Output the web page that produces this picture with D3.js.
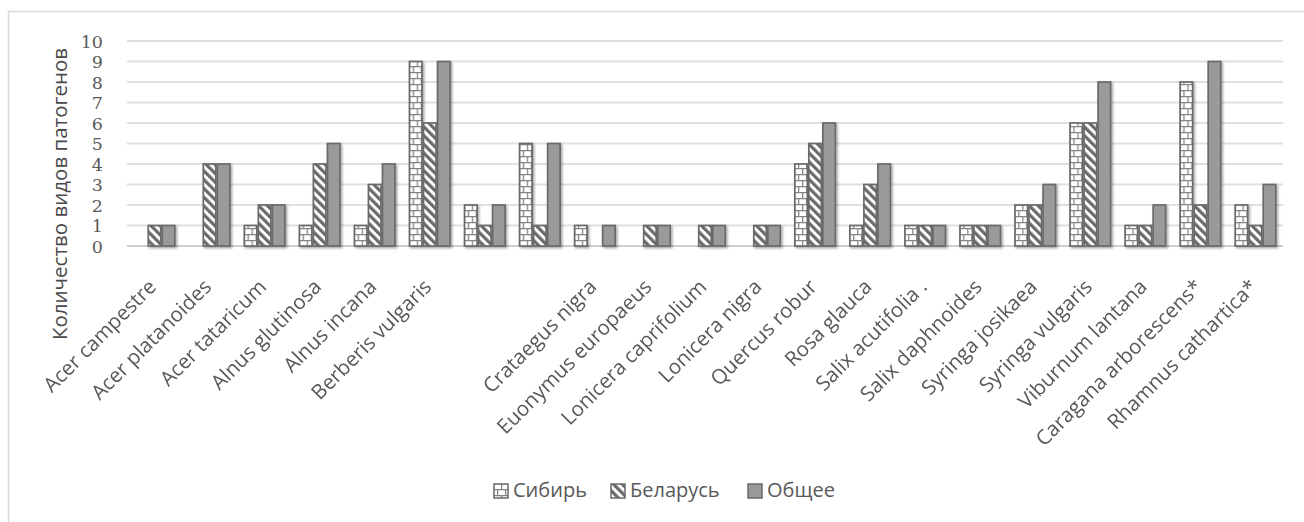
<!DOCTYPE html>
<html>
<head>
<meta charset="utf-8">
<script src="https://cdn.jsdelivr.net/npm/d3@7"></script>
<style>
  html, body { margin: 0; padding: 0; background: #fff; }
  svg { display: block; }
</style>
</head>
<body>
<svg id="chart" width="1304" height="522"></svg>
<script>
// Plant species (two unnamed groups keep an empty label)
const species = [
  "Acer campestre", "Acer platanoides", "Acer tataricum", "Alnus glutinosa",
  "Alnus incana", "Berberis vulgaris", "", "", "Crataegus nigra",
  "Euonymus europaeus", "Lonicera caprifolium", "Lonicera nigra",
  "Quercus robur", "Rosa glauca", "Salix acutifolia .", "Salix daphnoides",
  "Syringa josikaea", "Syringa vulgaris", "Viburnum lantana",
  "Caragana arborescens*", "Rhamnus cathartica*"
];

// Number of pathogen species per region
const siberia = [0, 0, 1, 1, 1, 9, 2, 5, 1, 0, 0, 0, 4, 1, 1, 1, 2, 6, 1, 8, 2];
const belarus = [1, 4, 2, 4, 3, 6, 1, 1, 0, 1, 1, 1, 5, 3, 1, 1, 2, 6, 1, 2, 1];
const total   = [1, 4, 2, 5, 4, 9, 2, 5, 1, 1, 1, 1, 6, 4, 1, 1, 3, 8, 2, 9, 3];

const seriesNames = ["Сибирь", "Беларусь", "Общее"];
const yTicks = [0, 1, 2, 3, 4, 5, 6, 7, 8, 9, 10];
const yTitle = "Количество видов патогенов";

const seriesValues = [siberia, belarus, total];
const fills = ["url(#brick)", "url(#stripes)", "#9a9a9a"];

const svg = d3.select("#chart");

// ---- patterns and shadow ----
const defs = svg.append("defs");

// small horizontal brick
const brick = defs.append("pattern")
  .attr("id", "brick").attr("patternUnits", "userSpaceOnUse")
  .attr("width", 8).attr("height", 12);
brick.append("rect").attr("width", 8).attr("height", 12).attr("fill", "#fff");
brick.append("path")
  .attr("d", "M0,0.6H8 M0,6.6H8 M0.6,0V6.6 M4.6,6.6V12")
  .attr("stroke", "#858585").attr("stroke-width", 1.3).attr("fill", "none");

// wide downward diagonal
const stripes = defs.append("pattern")
  .attr("id", "stripes").attr("patternUnits", "userSpaceOnUse")
  .attr("width", 6.2).attr("height", 6.2)
  .attr("patternTransform", "rotate(-45)");
stripes.append("rect").attr("width", 6.2).attr("height", 6.2).attr("fill", "#fff");
stripes.append("rect").attr("width", 3.2).attr("height", 6.2).attr("fill", "#6a6a6a");

const shadow = defs.append("filter").attr("id", "shadow")
  .attr("x", "-30%").attr("y", "-10%").attr("width", "160%").attr("height", "130%");
shadow.append("feDropShadow")
  .attr("dx", 1.5).attr("dy", 1.5).attr("stdDeviation", 1.2)
  .attr("flood-color", "#000").attr("flood-opacity", 0.35);

// ---- frame ----
svg.append("path")
  .attr("d", "M8.5,530V11.5H1310")
  .attr("fill", "none").attr("stroke", "#d9d9d9").attr("stroke-width", 1.5);

// ---- scales ----
const plot = { left: 127, right: 1283, top: 41, bottom: 246 };

const x = d3.scaleBand()
  .domain(d3.range(species.length))
  .range([plot.left, plot.right])
  .paddingInner(0.236)
  .paddingOuter(0.118);

const x1 = d3.scaleBand()
  .domain(d3.range(seriesNames.length))
  .range([0, x.bandwidth()])
  .padding(0);

const y = d3.scaleLinear().domain([0, 10]).range([plot.bottom, plot.top]);

// ---- gridlines ----
svg.append("g")
  .selectAll("line")
  .data(yTicks)
  .join("line")
  .attr("x1", plot.left).attr("x2", plot.right)
  .attr("y1", d => y(d)).attr("y2", d => y(d))
  .attr("stroke", d => d === 0 ? "#cfcfcf" : "#e0e0e0")
  .attr("stroke-width", 2);

// ---- y axis labels ----
const yAxis = svg.append("g")
  .attr("transform", `translate(${plot.left - 24},0)`)
  .call(d3.axisLeft(y).tickValues(yTicks).tickFormat(d3.format("d")).tickSize(0).tickPadding(0));
yAxis.select(".domain").remove();
yAxis.selectAll("text")
  .attr("font-family", "'DejaVu Serif', 'Liberation Serif', serif")
  .attr("font-size", 17.5)
  .attr("fill", "#5a5a5a")
  .attr("dy", "0.36em");

svg.append("text")
  .attr("transform", `translate(67,194) rotate(-90)`)
  .attr("text-anchor", "middle")
  .attr("font-family", "'Open Sans', sans-serif")
  .attr("font-size", 20.5)
  .attr("fill", "#4a4a4a")
  .text(yTitle);

// ---- bars ----
const groups = svg.append("g").attr("filter", "url(#shadow)")
  .selectAll("g")
  .data(species.map((s, i) => i))
  .join("g")
  .attr("transform", i => `translate(${x(i)},0)`);

groups.selectAll("rect")
  .data(i => seriesValues.map((vals, s) => ({ s, v: vals[i] })).filter(d => d.v > 0))
  .join("rect")
  .attr("x", d => x1(d.s) + 0.75)
  .attr("y", d => y(d.v))
  .attr("width", x1.bandwidth() - 1.5)
  .attr("height", d => y(0) - y(d.v))
  .attr("fill", d => fills[d.s])
  .attr("stroke", "#6a6a6a")
  .attr("stroke-width", 1.7);

// ---- category labels ----
const xAxis = svg.append("g")
  .attr("transform", `translate(0,${plot.bottom})`)
  .call(d3.axisBottom(x).tickFormat(i => species[i]).tickSize(0).tickPadding(0));
xAxis.select(".domain").remove();
xAxis.selectAll("text")
  .attr("font-family", "'Open Sans', sans-serif")
  .attr("font-size", 20.5)
  .attr("fill", "#595959")
  .attr("text-anchor", "end")
  .attr("dy", 0)
  .attr("transform", "translate(3,42) rotate(-45)");

// ---- legend ----
const legendPos = [493, 610, 747];
const legend = svg.append("g").attr("transform", "translate(0,483)");
const items = legend.selectAll("g")
  .data(seriesNames)
  .join("g")
  .attr("transform", (d, i) => `translate(${legendPos[i]},0)`);
items.append("rect")
  .attr("x", 1).attr("y", 1).attr("width", 14).attr("height", 14)
  .attr("fill", (d, i) => fills[i])
  .attr("stroke", "#6a6a6a").attr("stroke-width", 1.5);
items.append("text")
  .attr("x", 20).attr("y", 14)
  .attr("font-family", "'Open Sans', sans-serif")
  .attr("font-size", 20)
  .attr("fill", "#595959")
  .text(d => d);
</script>
</body>
</html>
